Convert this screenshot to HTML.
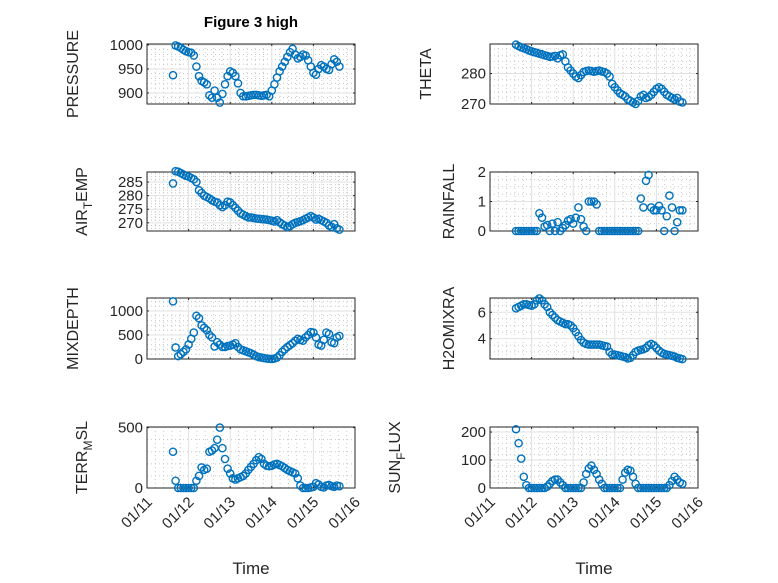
<!DOCTYPE html>
<html><head><meta charset="utf-8">
<style>
html,body{margin:0;padding:0;background:#fff;}
svg{display:block;font-family:"Liberation Sans",sans-serif;}
</style></head>
<body>
<svg id="fig" width="778" height="583" viewBox="0 0 778 583" xmlns="http://www.w3.org/2000/svg">
<rect x="0" y="0" width="778" height="583" fill="#fff"/>
<text x="251" y="27" text-anchor="middle" font-size="15" font-weight="bold" fill="#000">Figure 3 high</text>
</svg>
<script>
const times = [11.625,11.6875,11.75,11.8125,11.875,11.9375,12.0,12.0625,12.125,12.1875,12.25,12.3125,12.375,12.4375,12.5,12.5625,12.625,12.6875,12.75,12.8125,12.875,12.9375,13.0,13.0625,13.125,13.1875,13.25,13.3125,13.375,13.4375,13.5,13.5625,13.625,13.6875,13.75,13.8125,13.875,13.9375,14.0,14.0625,14.125,14.1875,14.25,14.3125,14.375,14.4375,14.5,14.5625,14.625,14.6875,14.75,14.8125,14.875,14.9375,15.0,15.0625,15.125,15.1875,15.25,15.3125,15.375,15.4375,15.5,15.5625,15.625];
const pressure = [937,999,997,994,990,987,985,984,978,955,935,925,922,918,895,890,905,890,880,898,918,935,945,942,935,920,900,893,893,894,895,896,896,895,894,895,896,893,905,918,932,945,955,965,975,985,992,980,972,975,980,978,968,955,942,938,950,958,955,950,948,960,970,965,955];
const airTemp = [284.5,289,288.8,288.3,287.8,287.3,287,286.5,286,285,282,281,280,279.5,279,278.3,277.8,277.5,276.5,275.8,276.5,277.8,277.5,276.5,275.5,274.5,273.5,273,272.5,272,272,271.8,271.6,271.5,271.4,271.3,271.2,271,270.8,270.5,271,270.2,269.5,269,268.5,268.8,269.5,270,270.3,270.6,271,271.5,272,272.5,272,271.2,271.5,271,270.5,270,269,268.5,269.5,268,267.5];
const mixDepth = [1200,240,60,100,150,200,300,420,550,900,850,700,650,600,500,450,260,350,300,250,250,270,280,300,330,250,200,180,160,140,120,90,60,40,30,20,10,5,0,10,30,80,150,200,250,290,330,380,420,400,380,450,500,560,550,450,300,280,400,550,520,350,330,450,480];
const terrMsl = [300,60,0,0,0,0,0,0,0,60,100,170,150,160,300,310,330,400,500,330,240,160,120,80,70,80,90,100,120,150,175,200,230,255,240,200,185,180,185,195,200,190,180,165,150,140,130,120,80,20,0,0,0,5,10,40,30,10,5,20,25,15,10,20,15];
const theta = [289.5,289,288.6,288.3,288,287.6,287.3,287,286.8,286.5,286.3,286,285.8,285.5,285.6,285.8,285,286,286.3,284,282,281,280,279,278.5,279.5,280.5,280.8,281,280.8,280.6,280.8,281,280.7,280.5,280,279,276.6,275.5,274.5,273.5,273,272.5,271.5,271,270.5,270,271,272.5,273,272,272.3,273,274,275,275.5,275,274,273,272.5,272,271.5,272,270.8,270.5];
const rainfall = [0,0,0,0,0,0,0,0,0,0.6,0.45,0.15,0.2,0,0.25,0,0.3,0,0.1,0.2,0.35,0.4,0.25,0.45,0.8,0.4,0.15,0,1,1,1,0.9,0,0,0,0,0,0,0,0,0,0,0,0,0,0,0,0,1.1,0.8,1.7,1.9,0.8,0.7,0.7,0.85,0.7,0,0.5,1.2,0.8,0,0.3,0.7,0.7];
const h2oMix = [6.3,6.4,6.5,6.6,6.6,6.55,6.5,6.6,6.9,7.05,6.9,6.6,6.4,6.0,5.8,5.6,5.4,5.3,5.2,5.1,5.1,5.0,4.8,4.5,4.2,3.9,3.7,3.6,3.55,3.55,3.55,3.55,3.55,3.5,3.45,3.4,3.0,2.8,2.8,2.75,2.7,2.65,2.6,2.5,2.55,2.75,3.0,3.1,3.15,3.2,3.3,3.5,3.6,3.5,3.3,3.1,2.95,2.85,2.8,2.75,2.7,2.65,2.55,2.5,2.45];
const sunFlux = [210,160,105,40,10,0,0,0,0,0,0,0,5,15,25,30,30,20,10,0,0,0,0,0,0,0,20,50,70,80,65,50,30,15,0,0,0,0,0,0,0,30,55,65,62,40,15,0,0,0,0,0,0,0,0,0,0,0,0,10,25,40,30,20,15];
const xTickDays = [11,12,13,14,15,16];
const xTickLabels = ["01/11","01/12","01/13","01/14","01/15","01/16"];

const NS = "http://www.w3.org/2000/svg";
const svg = document.getElementById("fig");
function mk(tag, attrs, parent){
  const e = document.createElementNS(NS, tag);
  for (const k in attrs) e.setAttribute(k, attrs[k]);
  (parent||svg).appendChild(e);
  return e;
}
const COLS = [[147,355],[490,698]];
const ROWS = [[44,104],[172,231],[298,359],[427,488]];
const panels = [
 {name:"pressure", data:pressure, col:0,row:0, ymin:877, ymax:1002, ticks:[900,950,1000], minor:10, label:["PRESSURE"], lx:78},
 {name:"theta", data:theta, col:1,row:0, ymin:270, ymax:289.7, ticks:[270,280], minor:2, label:["THETA"], lx:431},
 {name:"air-temp", data:airTemp, col:0,row:1, ymin:267, ymax:288.7, ticks:[270,275,280,285], minor:1, label:["AIR","T","EMP"], lx:87},
 {name:"rainfall", data:rainfall, col:1,row:1, ymin:0, ymax:2, ticks:[0,1,2], minor:0.25, label:["RAINFALL"], lx:454},
 {name:"mix-depth", data:mixDepth, col:0,row:2, ymin:0, ymax:1270, ticks:[0,500,1000], minor:100, label:["MIXDEPTH"], lx:78},
 {name:"h2o-mix", data:h2oMix, col:1,row:2, ymin:2.46, ymax:7.08, ticks:[4,6], minor:0.5, label:["H2OMIXRA"], lx:454},
 {name:"terr-msl", data:terrMsl, col:0,row:3, ymin:0, ymax:505, ticks:[0,500], minor:100, label:["TERR","M","SL"], lx:87},
 {name:"sun-flux", data:sunFlux, col:1,row:3, ymin:0, ymax:218, ticks:[0,100,200], minor:20, label:["SUN","F","LUX"], lx:400}
];
panels.forEach(p=>{
  const [x0,x1] = COLS[p.col], [y0,y1] = ROWS[p.row];
  const g = mk("g",{});
  
  
  const xs = d => x0 + (d-11)/5*(x1-x0);
  const ys = v => y1 - (v-p.ymin)/(p.ymax-p.ymin)*(y1-y0);
  mk("rect",{x:x0,y:y0,width:x1-x0,height:y1-y0,fill:"#fff"},g);
  for (let d=11.2; d<16; d+=0.2){ if (Math.abs(d-Math.round(d))<0.01) continue;
    mk("line",{x1:xs(d),x2:xs(d),y1:y0,y2:y1,stroke:"#c8c8c8","stroke-width":1,"stroke-dasharray":"1 3"},g);}
  const start = Math.ceil(p.ymin/p.minor)*p.minor;
  for (let v=start; v<=p.ymax; v+=p.minor){
    if (p.ticks.some(t=>Math.abs(t-v)<1e-6)) continue;
    mk("line",{x1:x0,x2:x1,y1:ys(v),y2:ys(v),stroke:"#c8c8c8","stroke-width":1,"stroke-dasharray":"1 3"},g);}
  xTickDays.forEach(d=>{ mk("line",{x1:xs(d),x2:xs(d),y1:y0,y2:y1,stroke:"#e2e2e2","stroke-width":1},g);});
  p.ticks.forEach(v=>{ mk("line",{x1:x0,x2:x1,y1:ys(v),y2:ys(v),stroke:"#e2e2e2","stroke-width":1},g);});
  xTickDays.forEach(d=>{
    mk("line",{x1:xs(d),x2:xs(d),y1:y1,y2:y1-2,stroke:"#262626"},g);
    mk("line",{x1:xs(d),x2:xs(d),y1:y0,y2:y0+2,stroke:"#262626"},g);
  });
  p.ticks.forEach(v=>{
    mk("line",{x1:x0,x2:x0+2,y1:ys(v),y2:ys(v),stroke:"#262626"},g);
    mk("line",{x1:x1,x2:x1-2,y1:ys(v),y2:ys(v),stroke:"#262626"},g);
    const t = mk("text",{x:x0-4,y:ys(v)+5,"text-anchor":"end","font-size":"15",fill:"#262626"},g);
    t.textContent = String(v);
    
    
  });
  mk("rect",{x:x0,y:y0,width:x1-x0,height:y1-y0,fill:"none",stroke:"#262626","stroke-width":1},g);
  p.data.forEach((v,i)=>{
    const c = mk("circle",{cx:xs(times[i]).toFixed(2),cy:ys(v).toFixed(2),r:3.6,fill:"none",stroke:"#0072BD","stroke-width":1.4},g);
    
    
  });
  const cy = (y0+y1)/2;
  const lab = mk("text",{x:p.lx,y:cy,"text-anchor":"middle","font-size":"16",fill:"#262626",transform:`rotate(-90 ${p.lx} ${cy})`},g);
  
  
  if (p.label.length===1){ lab.textContent = p.label[0]; }
  else {
    const a = mk("tspan",{},lab); a.textContent = p.label[0];
    const b = mk("tspan",{dy:"5","font-size":"12"},lab); b.textContent = p.label[1];
    const c2 = mk("tspan",{dy:"-5"},lab); c2.textContent = p.label[2];
  }
  if (p.row===3){
    xTickDays.forEach((d,k)=>{
      const tx = xs(d)+6, ty = y1+15;
      const t = mk("text",{x:tx,y:ty,"text-anchor":"end","font-size":"15",fill:"#262626",transform:`rotate(-45 ${tx} ${ty})`},g);
      t.textContent = xTickLabels[k];
      
      
    });
    const xl = mk("text",{x:(x0+x1)/2,y:574,"text-anchor":"middle","font-size":"17",fill:"#262626"},g);
    xl.textContent = "Time";
    
    
  }
});
</script>
</body></html>
